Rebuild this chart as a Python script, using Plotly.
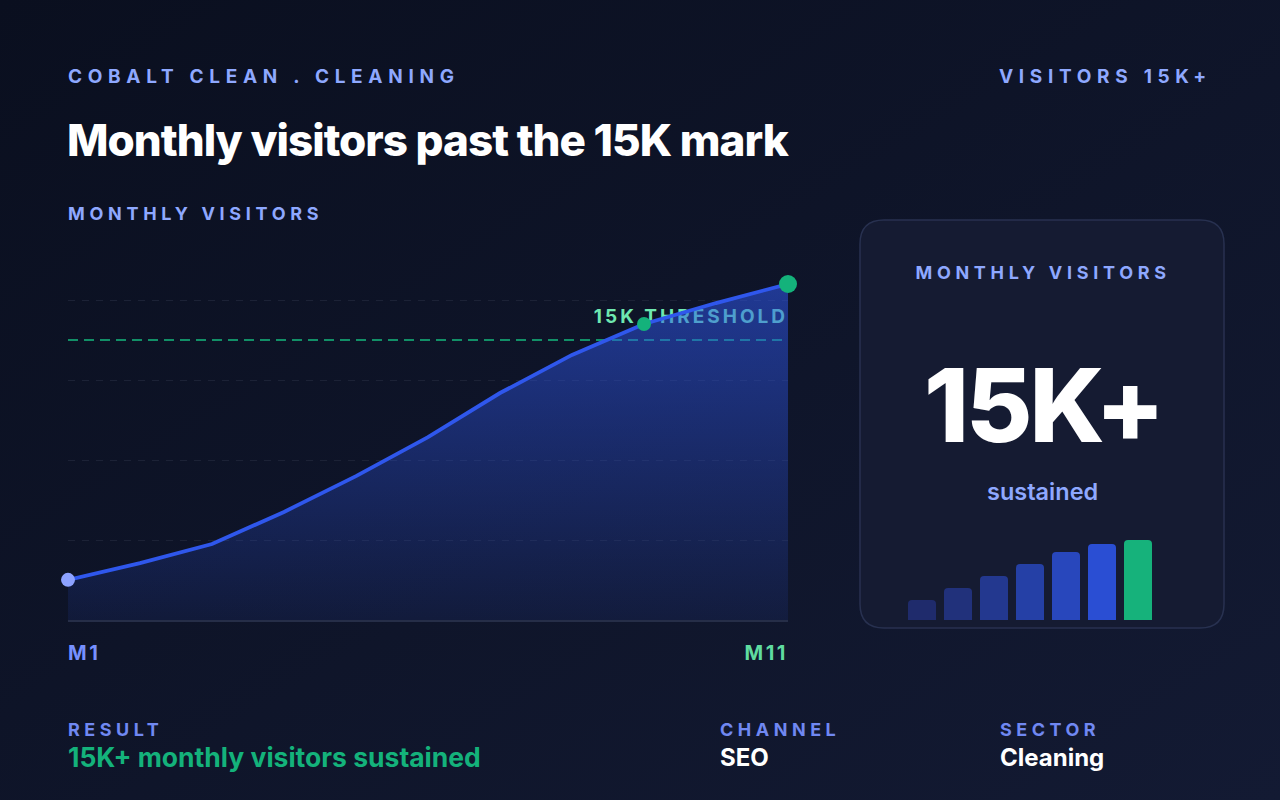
import base64
import json
import plotly.graph_objects as go

W, H = 1280, 800

# ---------------- data ----------------
months = ["M1", "M2", "M3", "M4", "M5", "M6", "M7", "M8", "M9", "M10", "M11"]
visitors = [2150, 3050, 4070, 5790, 7710, 9800, 12160, 14200, 15860, 16980, 18000]
threshold = 15000
threshold_label = "15K THRESHOLD"
grid_values = [4286, 8571, 12857, 17143]
y_axis_max = 19286

mini_slots = [1, 2, 3, 4, 5, 6, 7]
mini_values = [20, 32, 44, 56, 68, 76, 80]
mini_colors = ["#1f2b6c", "#21317b", "#23388f", "#2540a6", "#2847bc", "#2a4ed3", "#16b27b"]

brand = "COBALT CLEAN . CLEANING"
tag = "VISITORS 15K+"
title = "Monthly visitors past the 15K mark"
section = "MONTHLY VISITORS"
kpi_label = "MONTHLY VISITORS"
kpi_value = "15K+"
kpi_sub = "sustained"
foot_labels = ["RESULT", "CHANNEL", "SECTOR"]
foot_values = ["15K+ monthly visitors sustained", "SEO", "Cleaning"]

# ---------------- style ----------------
FONT = "Inter"
BLUE = "#2f57ec"
GREEN = "#14b27b"
LABEL = "#8ea8ff"
FOOT_LABEL = "#7088f2"


def px(x):
    return x / W


def py(y):
    return 1 - y / H


# background gradient (svg data uri)
svg = ('<svg xmlns="http://www.w3.org/2000/svg" width="1280" height="800">'
       '<defs><linearGradient id="g" x1="0" y1="0" x2="1" y2="1">'
       '<stop offset="0" stop-color="#0a0f1f"/><stop offset="1" stop-color="#131a33"/>'
       '</linearGradient></defs><rect width="1280" height="800" fill="url(#g)"/></svg>')
bg_src = "data:image/svg+xml;base64," + base64.b64encode(svg.encode()).decode()

fig = go.Figure()

# threshold dashed line (under the area fill)
fig.add_trace(go.Scatter(
    x=[months[0], months[-1]], y=[threshold, threshold], mode="lines",
    line=dict(color="rgba(20,175,120,0.8)", width=2, dash="10px,6px"),
    hoverinfo="skip", showlegend=False))

# threshold label (under the area fill)
label_offset = 22 * y_axis_max / 360
fig.add_trace(go.Scatter(
    x=[months[-1]], y=[threshold + label_offset], mode="text",
    text=[threshold_label], textposition="middle left",
    textfont=dict(family=FONT, size=19, color="#6ee7b0", weight=700),
    hoverinfo="skip", showlegend=False, cliponaxis=False))

# area fill
fig.add_trace(go.Scatter(
    x=months, y=visitors, mode="lines", line=dict(width=0, color=BLUE),
    fill="tozeroy",
    fillgradient=dict(type="vertical",
                      colorscale=[[0, "rgba(47,87,236,0.09)"], [1, "rgba(47,87,236,0.55)"]],
                      start=0, stop=max(visitors)),
    hoverinfo="skip", showlegend=False))

# line
fig.add_trace(go.Scatter(
    x=months, y=visitors, mode="lines", line=dict(color=BLUE, width=3.8),
    hoverinfo="skip", showlegend=False, cliponaxis=False))

# dots: first point, first crossing of threshold, last point
cross_idx = next(i for i, v in enumerate(visitors) if v >= threshold)
fig.add_trace(go.Scatter(
    x=[months[0]], y=[visitors[0]], mode="markers",
    marker=dict(size=14, color="#8da2ff"), hoverinfo="skip", showlegend=False, cliponaxis=False))
fig.add_trace(go.Scatter(
    x=[months[cross_idx]], y=[visitors[cross_idx]], mode="markers",
    marker=dict(size=14, color=GREEN), hoverinfo="skip", showlegend=False, cliponaxis=False))
fig.add_trace(go.Scatter(
    x=[months[-1]], y=[visitors[-1]], mode="markers",
    marker=dict(size=18, color=GREEN), hoverinfo="skip", showlegend=False, cliponaxis=False))

# mini bars in card
fig.add_trace(go.Bar(
    x=mini_slots, y=mini_values, width=28 / 36,
    marker=dict(color=mini_colors, cornerradius=4, line=dict(width=0)),
    xaxis="x2", yaxis="y2", hoverinfo="skip", showlegend=False))


# card shape
def rounded_rect(x0, y0, x1, y1, r):
    return (f"M {px(x0 + r)} {py(y0)} L {px(x1 - r)} {py(y0)} "
            f"Q {px(x1)} {py(y0)} {px(x1)} {py(y0 + r)} L {px(x1)} {py(y1 - r)} "
            f"Q {px(x1)} {py(y1)} {px(x1 - r)} {py(y1)} L {px(x0 + r)} {py(y1)} "
            f"Q {px(x0)} {py(y1)} {px(x0)} {py(y1 - r)} L {px(x0)} {py(y0 + r)} "
            f"Q {px(x0)} {py(y0)} {px(x0 + r)} {py(y0)} Z")


shapes = [dict(type="path", xref="paper", yref="paper", path=rounded_rect(860, 220, 1224, 628, 24),
               fillcolor="#151b32", line=dict(color="#283150", width=1.5), layer="below")]

annotations = []


def ann(text, x, y, size, color, weight=700, anchor="left"):
    annotations.append(dict(
        text=text, x=x / W, y=py(y), xref="paper", yref="paper",
        xanchor=anchor, yanchor="middle", align=anchor, showarrow=False,
        font=dict(family=FONT, size=size, color=color, weight=weight)))


ann(brand, 66, 77, 19, LABEL)
ann(tag, 1214, 77, 19, LABEL, anchor="right")
ann(title, 65, 140, 44, "#ffffff", weight=800)
ann(section, 66, 213, 18, LABEL)
ann(kpi_label, 1043, 272, 18, LABEL, anchor="center")
ann(kpi_value, 1043, 405, 102, "#ffffff", weight=800, anchor="center")
ann(kpi_sub, 1042, 491, 23.5, LABEL, weight=600, anchor="center")

annotations.append(dict(text=months[0], x=months[0], y=py(653), xref="x", yref="paper",
                        xanchor="left", yanchor="middle", align="left", xshift=-2, showarrow=False,
                        font=dict(family=FONT, size=20, color="#7690ff", weight=700)))
annotations.append(dict(text=months[-1], x=months[-1], y=py(653), xref="x", yref="paper",
                        xanchor="right", yanchor="middle", align="right", xshift=2, showarrow=False,
                        font=dict(family=FONT, size=20, color="#5fdca0", weight=700)))

foot_x = [66, 718, 998]
foot_colors = [GREEN, "#ffffff", "#ffffff"]
foot_sizes = [26.5, 24, 24]
for lab, val, fx, fc, fs in zip(foot_labels, foot_values, foot_x, foot_colors, foot_sizes):
    ann(lab, fx, 729, 18, FOOT_LABEL)
    ann(val, fx, 757, fs, fc)

fig.update_layout(
    width=W, height=H, margin=dict(l=0, r=0, t=0, b=0),
    paper_bgcolor="#0d1326", plot_bgcolor="rgba(0,0,0,0)",
    images=[dict(source=bg_src, xref="paper", yref="paper", x=0, y=1, sizex=1, sizey=1,
                 xanchor="left", yanchor="top", sizing="stretch", layer="below")],
    shapes=shapes, annotations=annotations,
    xaxis=dict(domain=[px(68), px(788)], range=[0, len(months) - 1], type="category",
               categoryorder="array", categoryarray=months,
               showgrid=False, zeroline=False, showticklabels=False, ticks="",
               showline=True, linecolor="#262e48", linewidth=2, fixedrange=True),
    yaxis=dict(domain=[py(620), py(260)], range=[0, y_axis_max], tickvals=grid_values,
               showgrid=True, gridcolor="#1c2236", gridwidth=1, griddash="7px,7px",
               zeroline=False, showticklabels=False, ticks="", showline=False, fixedrange=True),
    xaxis2=dict(domain=[px(904), px(1156)], range=[0.5, 7.5], anchor="y2",
                showgrid=False, zeroline=False, showticklabels=False, ticks="", showline=False),
    yaxis2=dict(domain=[py(620), py(540)], range=[0, max(mini_values)], anchor="x2",
                showgrid=False, zeroline=False, showticklabels=False, ticks="", showline=False),
    showlegend=False, hovermode=False,
)

spacing = {brand: 5.7, tag: 5.7, section: 4.7, threshold_label: 3.0,
           "RESULT": 4.5, "CHANNEL": 4.5, "SECTOR": 4.5, "M1": 2.5, "M11": 2.5,
           title: -1.0, kpi_value: -3}
js = ("var sp=" + json.dumps(spacing) + ";"
      "var gd=document.getElementById('{plot_id}');"
      "gd.querySelectorAll('text').forEach(function(el){var t=el.textContent;"
      "if(Object.prototype.hasOwnProperty.call(sp,t)){el.style.letterSpacing=sp[t]+'px';}});")

fig.write_html("out.html", config={"displayModeBar": False}, post_script=js)
